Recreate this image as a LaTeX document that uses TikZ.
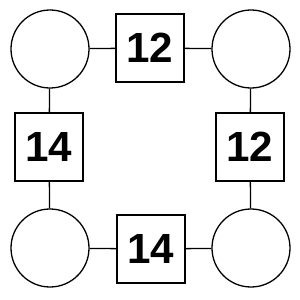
\documentclass[tikz,border=0pt]{standalone}
\usepackage{fontspec}
\setmainfont{Liberation Sans}
\usetikzlibrary{positioning}

\begin{document}
\begin{tikzpicture}[x=0.03cm,y=-0.03cm,line width=1.1pt,
  vert/.style={draw,circle,minimum size=2.34cm,inner sep=0pt},
  wbox/.style={draw,fill=white,minimum size=2.04cm,inner sep=0pt,font=\fontsize{36}{40}\selectfont\bfseries}]
  \useasboundingbox (0,0) rectangle (300,300);
  % four corner circles
  \node[vert] (tl) at (50,49) {};
  \node[vert] (tr) at (251,49) {};
  \node[vert] (bl) at (50,248) {};
  \node[vert] (br) at (251,248) {};
  % weights on the sides
  \node[wbox] (top) at (150,48) {12};
  \node[wbox] (lft) at (49,147) {14};
  \node[wbox] (rgt) at (250,147) {12};
  \node[wbox] (bot) at (151,249) {14};
  \foreach \a/\b in {tl/top,top/tr,tl/lft,lft/bl,tr/rgt,rgt/br,bl/bot,bot/br}
    \draw (\a) -- (\b);
\end{tikzpicture}
\end{document}
